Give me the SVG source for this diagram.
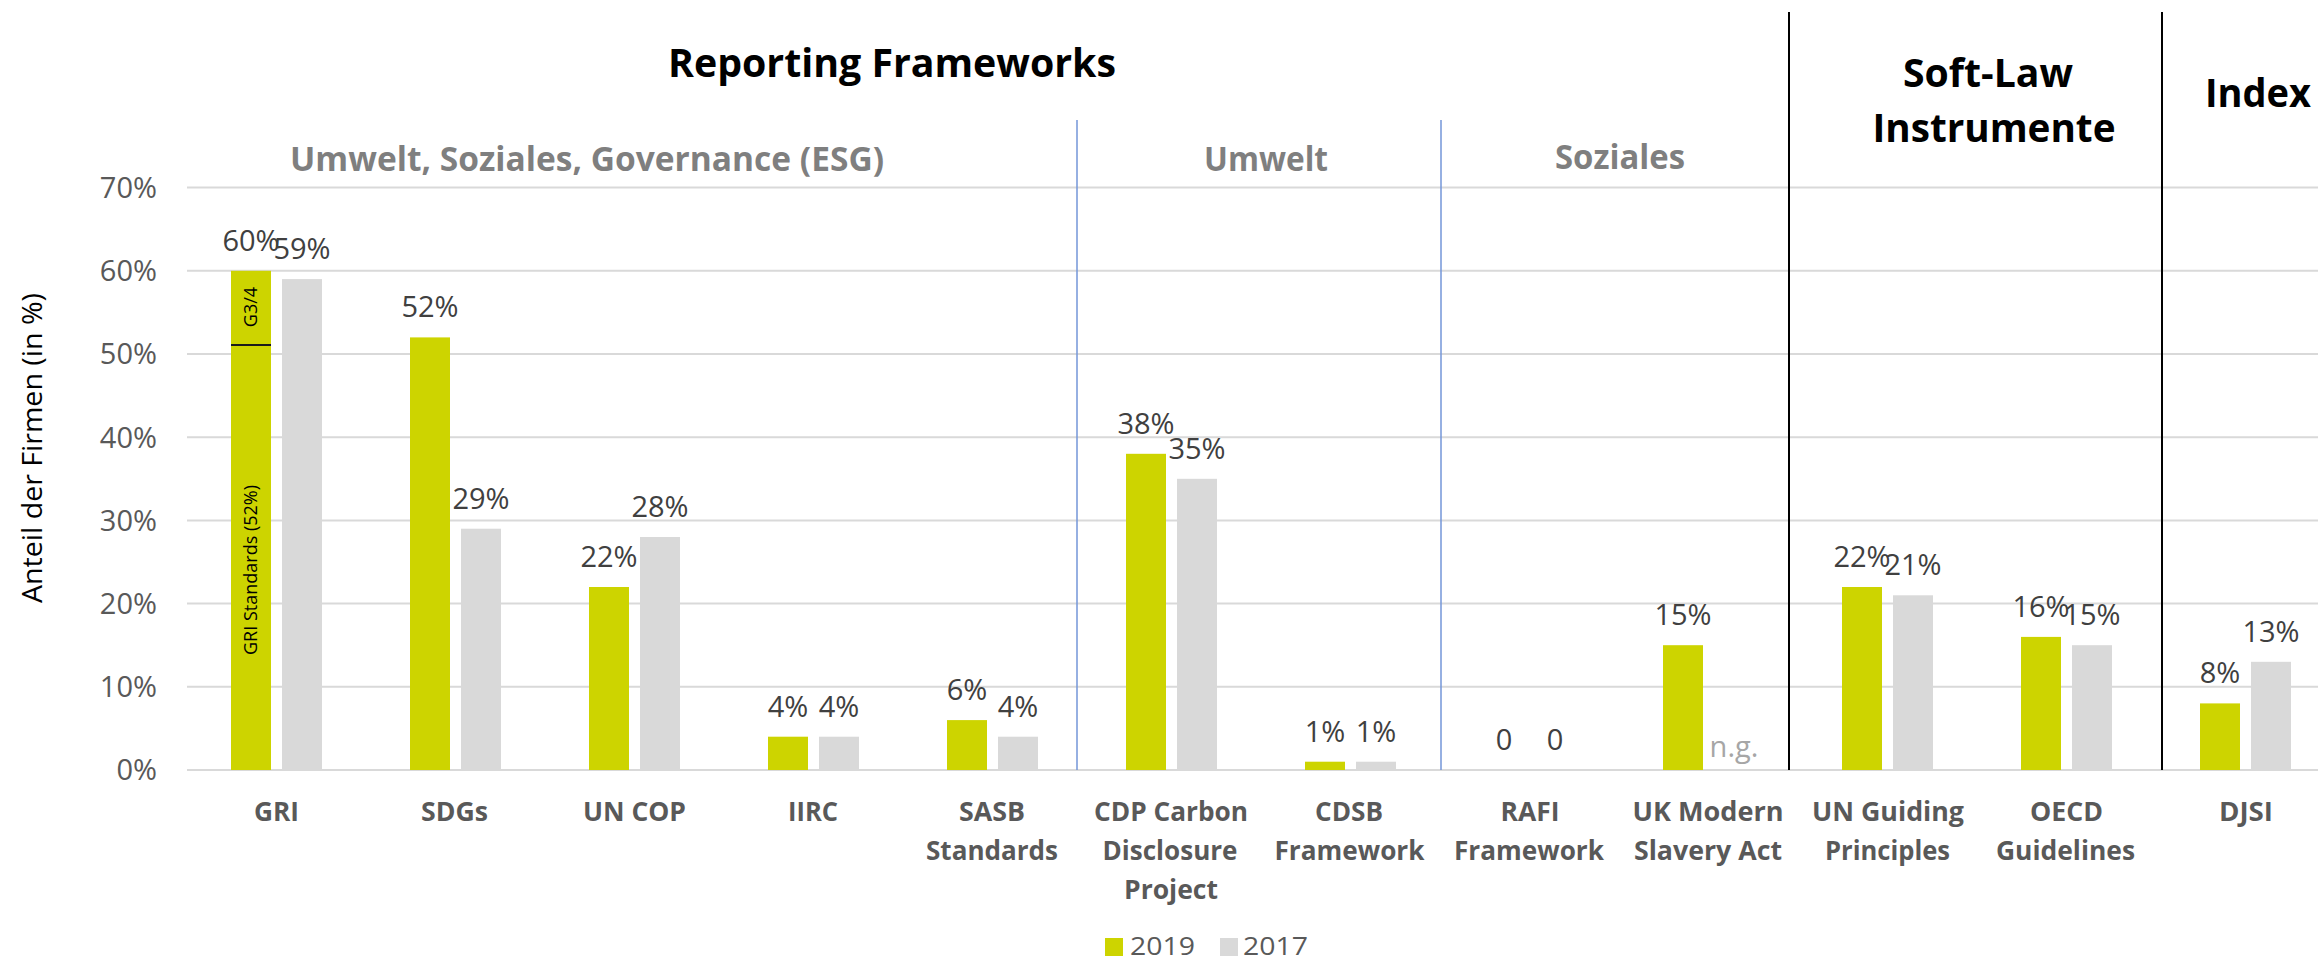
<svg xmlns="http://www.w3.org/2000/svg" width="2318" height="962" viewBox="0 0 2318 962">
<style>
  .bg{fill:#ffffff}
  .grid{stroke:#D9D9D9;stroke-width:2;fill:none}
  .g19{fill:#CDD400}
  .g17{fill:#D9D9D9}
  .tick{font-family:"Open Sans","Liberation Sans",sans-serif;font-size:29px;fill:#595959;text-anchor:end}
  .val{font-family:"Open Sans","Liberation Sans",sans-serif;font-size:29px;fill:#404040;text-anchor:middle}
  .ng{font-family:"Open Sans","Liberation Sans",sans-serif;font-size:29px;fill:#A6A6A6;text-anchor:middle}
  .cat{font-family:"Open Sans","Liberation Sans",sans-serif;font-size:26px;font-weight:bold;fill:#595959;text-anchor:middle}
  .h1{font-family:"Open Sans","Liberation Sans",sans-serif;font-size:40px;font-weight:bold;fill:#000000;text-anchor:middle}
  .h2{font-family:"Open Sans","Liberation Sans",sans-serif;font-size:34px;font-weight:bold;fill:#7F7F7F;text-anchor:middle}
  .inbar{font-family:"Open Sans","Liberation Sans",sans-serif;font-size:18px;fill:#000000;text-anchor:middle}
  .axt{font-family:"Open Sans","Liberation Sans",sans-serif;font-size:27px;fill:#000000;text-anchor:middle}
  .leg{font-family:"Open Sans","Liberation Sans",sans-serif;font-size:26px;fill:#595959}
  .sepb{stroke:#7396D8;stroke-width:1.5;fill:none}
  .sepk{stroke:#000000;stroke-width:2;fill:none}
</style>
<rect class="bg" x="0" y="0" width="2318" height="962"/>

<g id="axis">
  <line class="grid" x1="187" y1="187.6" x2="2318" y2="187.6"/>
  <line class="grid" x1="187" y1="270.8" x2="2318" y2="270.8"/>
  <line class="grid" x1="187" y1="354" x2="2318" y2="354"/>
  <line class="grid" x1="187" y1="437.2" x2="2318" y2="437.2"/>
  <line class="grid" x1="187" y1="520.4" x2="2318" y2="520.4"/>
  <line class="grid" x1="187" y1="603.6" x2="2318" y2="603.6"/>
  <line class="grid" x1="187" y1="686.8" x2="2318" y2="686.8"/>
  <line class="grid" x1="187" y1="770" x2="2318" y2="770"/>
  <text class="tick" x="157" y="198">70%</text>
  <text class="tick" x="157" y="281">60%</text>
  <text class="tick" x="157" y="364">50%</text>
  <text class="tick" x="157" y="448">40%</text>
  <text class="tick" x="157" y="531">30%</text>
  <text class="tick" x="157" y="614">20%</text>
  <text class="tick" x="157" y="697">10%</text>
  <text class="tick" x="157" y="780">0%</text>
  <text class="axt" transform="translate(42,448) rotate(-90)" textLength="310" lengthAdjust="spacingAndGlyphs">Anteil der Firmen (in %)</text>
</g>

<g id="connectors">
  <line class="sepb" x1="1077" y1="120" x2="1077" y2="770"/>
  <line class="sepb" x1="1441" y1="120" x2="1441" y2="770"/>
  <line class="sepk" x1="1789" y1="12" x2="1789" y2="770"/>
  <line class="sepk" x1="2162" y1="12" x2="2162" y2="770"/>
</g>

<g id="headers">
  <text class="h1" x="892" y="77" textLength="448" lengthAdjust="spacingAndGlyphs">Reporting Frameworks</text>
  <text class="h2" x="587" y="171" textLength="594" lengthAdjust="spacingAndGlyphs">Umwelt, Soziales, Governance (ESG)</text>
  <text class="h2" x="1266" y="171" textLength="124" lengthAdjust="spacingAndGlyphs">Umwelt</text>
  <text class="h2" x="1620" y="169" textLength="130" lengthAdjust="spacingAndGlyphs">Soziales</text>
  <text class="h1" x="1988" y="87" textLength="170" lengthAdjust="spacingAndGlyphs">Soft-Law</text>
  <text class="h1" x="1994" y="142" textLength="243" lengthAdjust="spacingAndGlyphs">Instrumente</text>
  <text class="h1" x="2258" y="107" textLength="106" lengthAdjust="spacingAndGlyphs">Index</text>
</g>

<g id="cat-gri">
  <rect class="g19" x="231" y="270.8" width="40" height="499.2"/>
  <rect class="g17" x="282" y="279.1" width="40" height="490.9"/>
  <line x1="231" y1="345" x2="271" y2="345" stroke="#1a1a1a" stroke-width="2"/>
  <text class="inbar" transform="translate(257,307) rotate(-90)">G3/4</text>
  <text class="inbar" transform="translate(257,570) rotate(-90)">GRI Standards (52%)</text>
  <text class="val" x="251" y="251">60%</text>
  <text class="val" x="302" y="259">59%</text>
  <text class="cat" x="276.5" y="821" textLength="45" lengthAdjust="spacingAndGlyphs">GRI</text>
</g>

<g id="cat-sdgs">
  <rect class="g19" x="410" y="337.4" width="40" height="432.6"/>
  <rect class="g17" x="461" y="528.7" width="40" height="241.3"/>
  <text class="val" x="430" y="317">52%</text>
  <text class="val" x="481" y="509">29%</text>
  <text class="cat" x="454.5" y="821" textLength="67" lengthAdjust="spacingAndGlyphs">SDGs</text>
</g>

<g id="cat-uncop">
  <rect class="g19" x="589" y="587" width="40" height="183"/>
  <rect class="g17" x="640" y="537" width="40" height="233"/>
  <text class="val" x="609" y="567">22%</text>
  <text class="val" x="660" y="517">28%</text>
  <text class="cat" x="634.5" y="821" textLength="103" lengthAdjust="spacingAndGlyphs">UN COP</text>
</g>

<g id="cat-iirc">
  <rect class="g19" x="768" y="736.7" width="40" height="33.3"/>
  <rect class="g17" x="819" y="736.7" width="40" height="33.3"/>
  <text class="val" x="788" y="717">4%</text>
  <text class="val" x="839" y="717">4%</text>
  <text class="cat" x="813" y="821" textLength="50" lengthAdjust="spacingAndGlyphs">IIRC</text>
</g>

<g id="cat-sasb">
  <rect class="g19" x="947" y="720.1" width="40" height="49.9"/>
  <rect class="g17" x="998" y="736.7" width="40" height="33.3"/>
  <text class="val" x="967" y="700">6%</text>
  <text class="val" x="1018" y="717">4%</text>
  <text class="cat" x="992" y="821" textLength="66" lengthAdjust="spacingAndGlyphs">SASB</text>
  <text class="cat" x="992" y="860" textLength="132" lengthAdjust="spacingAndGlyphs">Standards</text>
</g>

<g id="cat-cdp">
  <rect class="g19" x="1126" y="453.8" width="40" height="316.2"/>
  <rect class="g17" x="1177" y="478.8" width="40" height="291.2"/>
  <text class="val" x="1146" y="434">38%</text>
  <text class="val" x="1197" y="459">35%</text>
  <text class="cat" x="1171" y="821" textLength="154" lengthAdjust="spacingAndGlyphs">CDP Carbon</text>
  <text class="cat" x="1170" y="860" textLength="135" lengthAdjust="spacingAndGlyphs">Disclosure</text>
  <text class="cat" x="1171" y="899" textLength="94" lengthAdjust="spacingAndGlyphs">Project</text>
</g>

<g id="cat-cdsb">
  <rect class="g19" x="1305" y="761.7" width="40" height="8.3"/>
  <rect class="g17" x="1356" y="761.7" width="40" height="8.3"/>
  <text class="val" x="1325" y="742">1%</text>
  <text class="val" x="1376" y="742">1%</text>
  <text class="cat" x="1349" y="821" textLength="68" lengthAdjust="spacingAndGlyphs">CDSB</text>
  <text class="cat" x="1349.5" y="860" textLength="150" lengthAdjust="spacingAndGlyphs">Framework</text>
</g>

<g id="cat-rafi">
  <text class="val" x="1504" y="750">0</text>
  <text class="val" x="1555" y="750">0</text>
  <text class="cat" x="1530" y="821" textLength="59" lengthAdjust="spacingAndGlyphs">RAFI</text>
  <text class="cat" x="1529" y="860" textLength="150" lengthAdjust="spacingAndGlyphs">Framework</text>
</g>

<g id="cat-ukmsa">
  <rect class="g19" x="1663" y="645.2" width="40" height="124.8"/>
  <text class="val" x="1683" y="625">15%</text>
  <text class="ng" x="1734" y="757">n.g.</text>
  <text class="cat" x="1708" y="821" textLength="151" lengthAdjust="spacingAndGlyphs">UK Modern</text>
  <text class="cat" x="1708" y="860" textLength="148" lengthAdjust="spacingAndGlyphs">Slavery Act</text>
</g>

<g id="cat-ungp">
  <rect class="g19" x="1842" y="587" width="40" height="183"/>
  <rect class="g17" x="1893" y="595.3" width="40" height="174.7"/>
  <text class="val" x="1862" y="567">22%</text>
  <text class="val" x="1913" y="575">21%</text>
  <text class="cat" x="1888" y="821" textLength="152" lengthAdjust="spacingAndGlyphs">UN Guiding</text>
  <text class="cat" x="1887.5" y="860" textLength="125" lengthAdjust="spacingAndGlyphs">Principles</text>
</g>

<g id="cat-oecd">
  <rect class="g19" x="2021" y="636.9" width="40" height="133.1"/>
  <rect class="g17" x="2072" y="645.2" width="40" height="124.8"/>
  <text class="val" x="2041" y="617">16%</text>
  <text class="val" x="2092" y="625">15%</text>
  <text class="cat" x="2066.5" y="821" textLength="73" lengthAdjust="spacingAndGlyphs">OECD</text>
  <text class="cat" x="2065.5" y="860" textLength="139" lengthAdjust="spacingAndGlyphs">Guidelines</text>
</g>

<g id="cat-djsi">
  <rect class="g19" x="2200" y="703.4" width="40" height="66.6"/>
  <rect class="g17" x="2251" y="661.8" width="40" height="108.2"/>
  <text class="val" x="2220" y="683">8%</text>
  <text class="val" x="2271" y="642">13%</text>
  <text class="cat" x="2246" y="821" textLength="54" lengthAdjust="spacingAndGlyphs">DJSI</text>
</g>

<g id="legend">
  <rect class="g19" x="1105" y="938" width="18" height="18"/>
  <text class="leg" x="1130" y="955" textLength="65" lengthAdjust="spacingAndGlyphs">2019</text>
  <rect class="g17" x="1220" y="938" width="18" height="18"/>
  <text class="leg" x="1243" y="955" textLength="65" lengthAdjust="spacingAndGlyphs">2017</text>
</g>
</svg>
